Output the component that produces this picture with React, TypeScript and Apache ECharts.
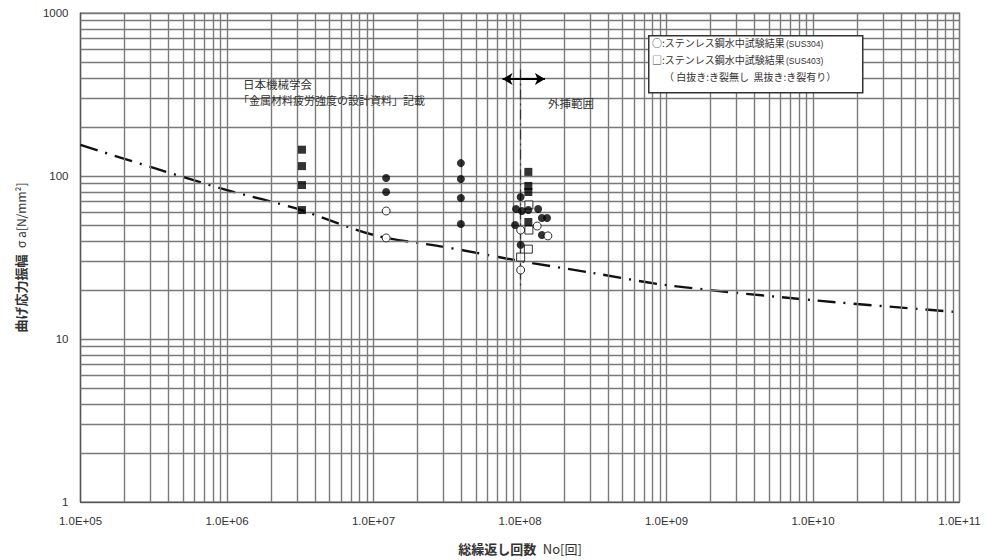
import React, { useEffect, useRef } from 'react';
import * as echarts from 'echarts';

const xTickLabels = ['1.0E+05', '1.0E+06', '1.0E+07', '1.0E+08', '1.0E+09', '1.0E+10', '1.0E+11'];
const yTickLabels = ['1', '10', '100', '1000'];

// design fatigue curve (dash-dot)
const designCurve: [number, number][] = [
  [1e5, 155], [3.16e5, 112], [1e6, 82], [3e6, 63], [1e7, 43.5], [3.16e7, 36.5],
  [1e8, 30.1], [3.16e8, 25.4], [1e9, 21.4], [1e10, 17.3], [1e11, 14.6],
];

// SUS403 crack present (filled squares)
const sus403Crack: [number, number][] = [
  [3.25e6, 145], [3.25e6, 115], [3.25e6, 88], [3.25e6, 61.8],
  [1.14e8, 106], [1.14e8, 86.9], [1.14e8, 79.8], [1.14e8, 52.2],
];
// SUS403 no crack (open squares)
const sus403NoCrack: [number, number][] = [
  [1.15e8, 66.4], [1.15e8, 46.6], [1.14e8, 35.6], [1.01e8, 31.8],
];
// SUS304 crack present (filled circles)
const sus304Crack: [number, number][] = [
  [1.22e7, 97.2], [1.22e7, 79.8],
  [3.95e7, 120], [3.95e7, 95.9], [3.95e7, 73.3], [3.95e7, 50.8],
  [1.01e8, 74.3], [9.4e7, 62.8], [1.03e8, 61.0], [1.14e8, 61.8], [1.33e8, 62.8],
  [1.41e8, 55.2], [1.53e8, 55.2], [9.25e7, 50.0], [1.41e8, 43.5], [1.01e8, 37.8],
];
// SUS304 no crack (open circles)
const sus304NoCrack: [number, number][] = [
  [1.22e7, 61], [1.22e7, 41.7], [1.31e8, 49.3], [1.01e8, 46.6], [1.55e8, 42.9], [1.01e8, 26.5],
];

const xDecades = [5, 6, 7, 8, 9, 10];
const yDecades = [0, 1, 2];
const minorMultipliers = [2, 3, 4, 5, 6, 7, 8, 9];

const FONT = '"Liberation Sans", "Noto Sans CJK JP", sans-serif';
const JFONT = '"Noto Sans CJK JP", sans-serif';

export default function App() {
  const ref = useRef<HTMLDivElement>(null);
  useEffect(() => {
    if (!ref.current) return;
    const chart = echarts.init(ref.current, null, { renderer: 'svg' });

    const minorX: any[] = [];
    xDecades.forEach((d) => minorMultipliers.forEach((m) => minorX.push({ xAxis: m * Math.pow(10, d) })));
    const minorY: any[] = [];
    yDecades.forEach((d) => minorMultipliers.forEach((m) => minorY.push({ yAxis: m * Math.pow(10, d) })));

    const gridColor = '#7a7a7a';
    const gridWidth = 1.4;

    chart.setOption({
      animation: false,
      backgroundColor: '#ffffff',
      grid: { left: 80.5, right: 27.5, top: 13, bottom: 58, show: true, borderColor: '#666', borderWidth: 1.2 },
      xAxis: {
        type: 'log', logBase: 10, min: 1e5, max: 1e11,
        axisLine: { show: true, lineStyle: { color: '#555', width: 1.2 } },
        axisTick: { show: false },
        splitLine: { show: true, lineStyle: { color: gridColor, width: gridWidth } },
        axisLabel: {
          color: '#333', fontSize: 11.5, fontFamily: FONT, margin: 13,
          formatter: (v: number) => xTickLabels[Math.round(Math.log10(v)) - 5] ?? '',
        },
        name: '{b|総繰返し回数}  {n|No[回]}',
        nameLocation: 'middle', nameGap: 40,
        nameTextStyle: {
          rich: {
            b: { fontFamily: JFONT, fontSize: 13, fontWeight: 'bold', color: '#333' },
            n: { fontFamily: JFONT, fontSize: 13, color: '#333' },
          },
        },
      },
      yAxis: {
        type: 'log', logBase: 10, min: 1, max: 1000,
        axisLine: { show: true, lineStyle: { color: '#555', width: 1.2 } },
        axisTick: { show: false },
        splitLine: { show: true, lineStyle: { color: gridColor, width: gridWidth } },
        axisLabel: {
          color: '#333', fontSize: 11.5, fontFamily: FONT, margin: 12,
          formatter: (v: number) => yTickLabels[Math.round(Math.log10(v))] ?? '',
        },
        name: '{b|曲げ応力振幅}  {n|σ a[N/mm²]}',
        nameLocation: 'middle', nameGap: 54, nameRotate: 90,
        nameTextStyle: {
          rich: {
            b: { fontFamily: JFONT, fontSize: 13, fontWeight: 'bold', color: '#333' },
            n: { fontFamily: JFONT, fontSize: 12, color: '#333' },
          },
        },
      },
      series: [
        {
          type: 'scatter', data: [], silent: true, z: 1,
          markLine: {
            silent: true, symbol: 'none', label: { show: false },
            lineStyle: { color: gridColor, width: gridWidth, type: 'solid' },
            data: [...minorX, ...minorY],
          },
        },
        {
          type: 'line', data: designCurve, showSymbol: false, smooth: 0.3, z: 3,
          lineStyle: { color: '#111', width: 2.4, type: [18, 8, 2, 8] },
        },
        {
          type: 'scatter', data: [], silent: true, z: 3,
          markLine: {
            silent: true, label: { show: false },
            data: [
              [
                { coord: [1e8, 450], symbol: 'none' },
                { coord: [1e8, 21], symbol: 'none' },
              ],
            ],
            lineStyle: { color: '#333', width: 1.2, type: [10, 4, 2, 4] },
          },
        },
        {
          type: 'scatter', data: [], silent: true, z: 3,
          markLine: {
            silent: true, label: { show: false },
            symbol: ['arrow', 'arrow'], symbolSize: [9, 10],
            data: [[{ coord: [7.6e7, 394] }, { coord: [1.48e8, 394] }]],
            lineStyle: { color: '#000', width: 2, type: 'solid' },
          },
        },
        {
          name: 'SUS403 crack', type: 'scatter', data: sus403Crack, symbol: 'rect', symbolSize: 8, z: 5,
          itemStyle: { color: '#000' },
        },
        {
          name: 'SUS403 no crack', type: 'scatter', data: sus403NoCrack, symbol: 'rect', symbolSize: 8, z: 5,
          itemStyle: { color: '#fff', borderColor: '#000', borderWidth: 1 },
        },
        {
          name: 'SUS304 crack', type: 'scatter', data: sus304Crack, symbol: 'circle', symbolSize: 8, z: 5,
          itemStyle: { color: '#000' },
        },
        {
          name: 'SUS304 no crack', type: 'scatter', data: sus304NoCrack, symbol: 'circle', symbolSize: 8, z: 5,
          itemStyle: { color: '#fff', borderColor: '#000', borderWidth: 1 },
        },
      ],
      graphic: [
        {
          type: 'text', left: 243, top: 78, z: 10,
          style: { text: '日本機械学会', fontFamily: JFONT, fontSize: 11.5, fill: '#333' },
        },
        {
          type: 'text', left: 238, top: 94, z: 10,
          style: { text: '「金属材料疲労強度の設計資料」記載', fontFamily: JFONT, fontSize: 11, fill: '#333' },
        },
        {
          type: 'text', left: 548, top: 97, z: 10,
          style: { text: '外挿範囲', fontFamily: JFONT, fontSize: 11.5, fill: '#333' },
        },
        {
          type: 'rect', left: 648, top: 35, z: 10,
          shape: { width: 214, height: 57 },
          style: { fill: '#fff', stroke: '#333', lineWidth: 1.5 },
        },
        {
          type: 'text', left: 652, top: 37, z: 11,
          style: { text: '○:ステンレス鋼水中試験結果', fontFamily: JFONT, fontSize: 10, fill: '#333' },
        },
        {
          type: 'text', left: 786, top: 40, z: 11,
          style: { text: '(SUS304)', fontFamily: FONT, fontSize: 8.5, fill: '#333' },
        },
        {
          type: 'text', left: 652, top: 54, z: 11,
          style: { text: '□:ステンレス鋼水中試験結果', fontFamily: JFONT, fontSize: 10, fill: '#333' },
        },
        {
          type: 'text', left: 786, top: 57, z: 11,
          style: { text: '(SUS403)', fontFamily: FONT, fontSize: 8.5, fill: '#333' },
        },
        {
          type: 'text', left: 664, top: 71, z: 11,
          style: { text: '（ 白抜き:き裂無し  黒抜き:き裂有り）', fontFamily: JFONT, fontSize: 10, fill: '#333' },
        },
      ],
    });
    return () => chart.dispose();
  }, []);
  return <div ref={ref} style={{ position: 'fixed', left: 0, top: 0, width: 987, height: 560 }} />;
}
